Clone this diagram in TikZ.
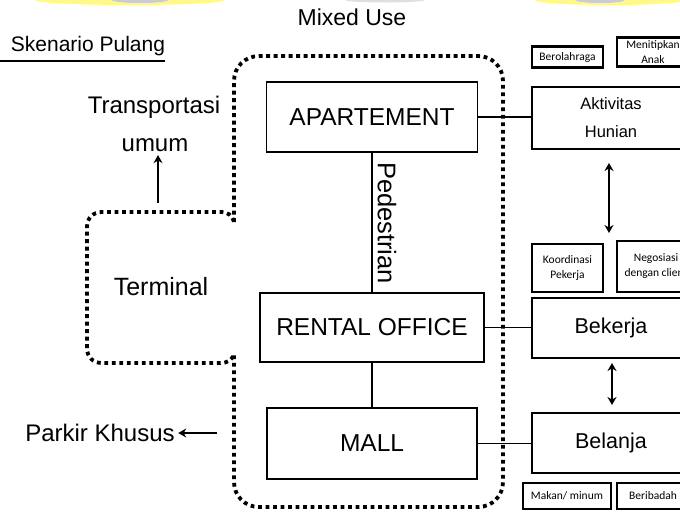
\documentclass[tikz,border=0pt]{standalone}
\usepackage{fontspec}
\setmainfont{Liberation Sans}
\newfontfamily\notefont{Carlito}
\usetikzlibrary{arrows.meta}

\begin{document}
\begin{tikzpicture}[x=1pt,y=-1pt,
  bigtext/.style={font=\fontsize{24}{28}\selectfont},
  mainbox/.style={draw, line width=1.7pt, inner sep=0pt, font=\fontsize{24.5}{28}\selectfont},
  actbox/.style={draw, line width=1.8pt, inner sep=0pt, align=center},
  notebox/.style={draw, line width=2.2pt, inner sep=0pt, align=center, font=\notefont\fontsize{11.5}{15}\selectfont},
  conn/.style={line width=1.6pt},
  onearrow/.style={line width=1.6pt, -{Stealth[length=8pt,width=9pt]}},
  twoarrow/.style={line width=1.8pt, {Stealth[length=8pt,width=9pt]}-{Stealth[length=8pt,width=9pt]}},
  dotline/.style={line width=3.8pt, dash pattern=on 3.8pt off 3.7pt}
]
\useasboundingbox (0,0) rectangle (680,512);
\clip (0,0) rectangle (680,512);
\fill[white] (0,0) rectangle (680,512);

% faint smudges along the upper edge
\fill[yellow!45!white] (130,0) ellipse [x radius=95, y radius=5];
\fill[gray!40] (140,0) ellipse [x radius=28, y radius=3];
\fill[gray!25] (385,0) ellipse [x radius=40, y radius=2.5];
\fill[yellow!45!white] (610,0) ellipse [x radius=75, y radius=5];
\fill[gray!40] (600,0) ellipse [x radius=25, y radius=3];

% titles
\node[font=\fontsize{21}{24}\selectfont] (skn) at (88,46) {Skenario Pulang};
\draw[conn] (0,61) -- (165,61);
\node[font=\fontsize{23}{26}\selectfont] (mixed) at (352,17) {Mixed Use};

% mixed-use zone joined with the terminal zone
\draw[dotline] (234,222) -- (234,81)
  .. controls (234,67) and (245,56) .. (259,56) -- (478,56)
  .. controls (492,56) and (503,67) .. (503,81) -- (503,482)
  .. controls (503,496) and (492,507) .. (478,507) -- (259,507)
  .. controls (245,507) and (234,496) .. (234,482) -- (234,354)
  .. controls (232,360) and (228,363) .. (220,363) -- (102,363)
  .. controls (93,363) and (87,357) .. (87,348) -- (87,227)
  .. controls (87,218) and (93,212) .. (102,212) -- (220,212)
  .. controls (228,212) and (232,215) .. (234,222);

% left side
\node[bigtext] (trans) at (154,107) {Transportasi};
\node[bigtext] (umum) at (155,145) {umum};
\node[font=\fontsize{25}{28}\selectfont] (term) at (161,287) {Terminal};
\node[bigtext] (parkir) at (100,433) {Parkir Khusus};
\coordinate (termtop) at (158,203);
\coordinate (zoneleft) at (217,433);
\draw[onearrow] (termtop) -- (termtop |- umum.south);
\draw[onearrow] (zoneleft) -- (parkir.east);

% buildings
\node[mainbox, minimum width=211pt, minimum height=70pt] (apt) at (372,117) {APARTEMENT};
\node[mainbox, minimum width=224pt, minimum height=69pt] (rent) at (372,327.5) {RENTAL OFFICE};
\node[mainbox, minimum width=210pt, minimum height=71pt] (mall) at (372,443.5) {MALL};
\draw[conn] (apt.south) -- (rent.north);
\draw[conn] (rent.south) -- (mall.north);
\node[rotate=-90, font=\fontsize{25.5}{28}\selectfont] (ped) at (387,223) {Pedestrian};

% activities
\node[actbox, minimum width=158pt, minimum height=62pt, font=\fontsize{16.5}{28}\selectfont] (hunian) at (611,118) {Aktivitas\\Hunian};
\node[actbox, minimum width=158pt, minimum height=60pt, font=\fontsize{21.5}{24}\selectfont] (bekerja) at (611,328) {Bekerja};
\node[actbox, minimum width=158pt, minimum height=60pt, font=\fontsize{21.5}{24}\selectfont] (belanja) at (611,443) {Belanja};

\draw[conn] (apt.east) -- (apt.east -| hunian.west);
\draw[conn] (rent.east) -- (rent.east -| bekerja.west);
\draw[conn] (mall.east) -- (mall.east -| belanja.west);

% activity details
\node[notebox, minimum width=71pt, minimum height=21pt] (olah) at (567.5,57) {Berolahraga};
\node[notebox, minimum width=72pt, minimum height=29pt] (titip) at (653,52) {Menitipkan\\Anak};
\node[notebox, minimum width=71pt, minimum height=48pt] (koord) at (567.5,268) {Koordinasi\\Pekerja};
\node[notebox, minimum width=78pt, minimum height=51pt] (nego) at (656,266.5) {Negosiasi\\dengan client};
\node[notebox, minimum width=88pt, minimum height=26pt] (makan) at (567,496) {Makan/ minum};
\node[notebox, minimum width=72pt, minimum height=26pt] (ibadah) at (653,496) {Beribadah};

\coordinate (h1) at (609,163);
\coordinate (h2) at (609,233);
\coordinate (b1) at (612,363);
\coordinate (b2) at (612,405);
\draw[twoarrow] (h1) -- (h2);
\draw[twoarrow] (b1) -- (b2);
\end{tikzpicture}
\end{document}
